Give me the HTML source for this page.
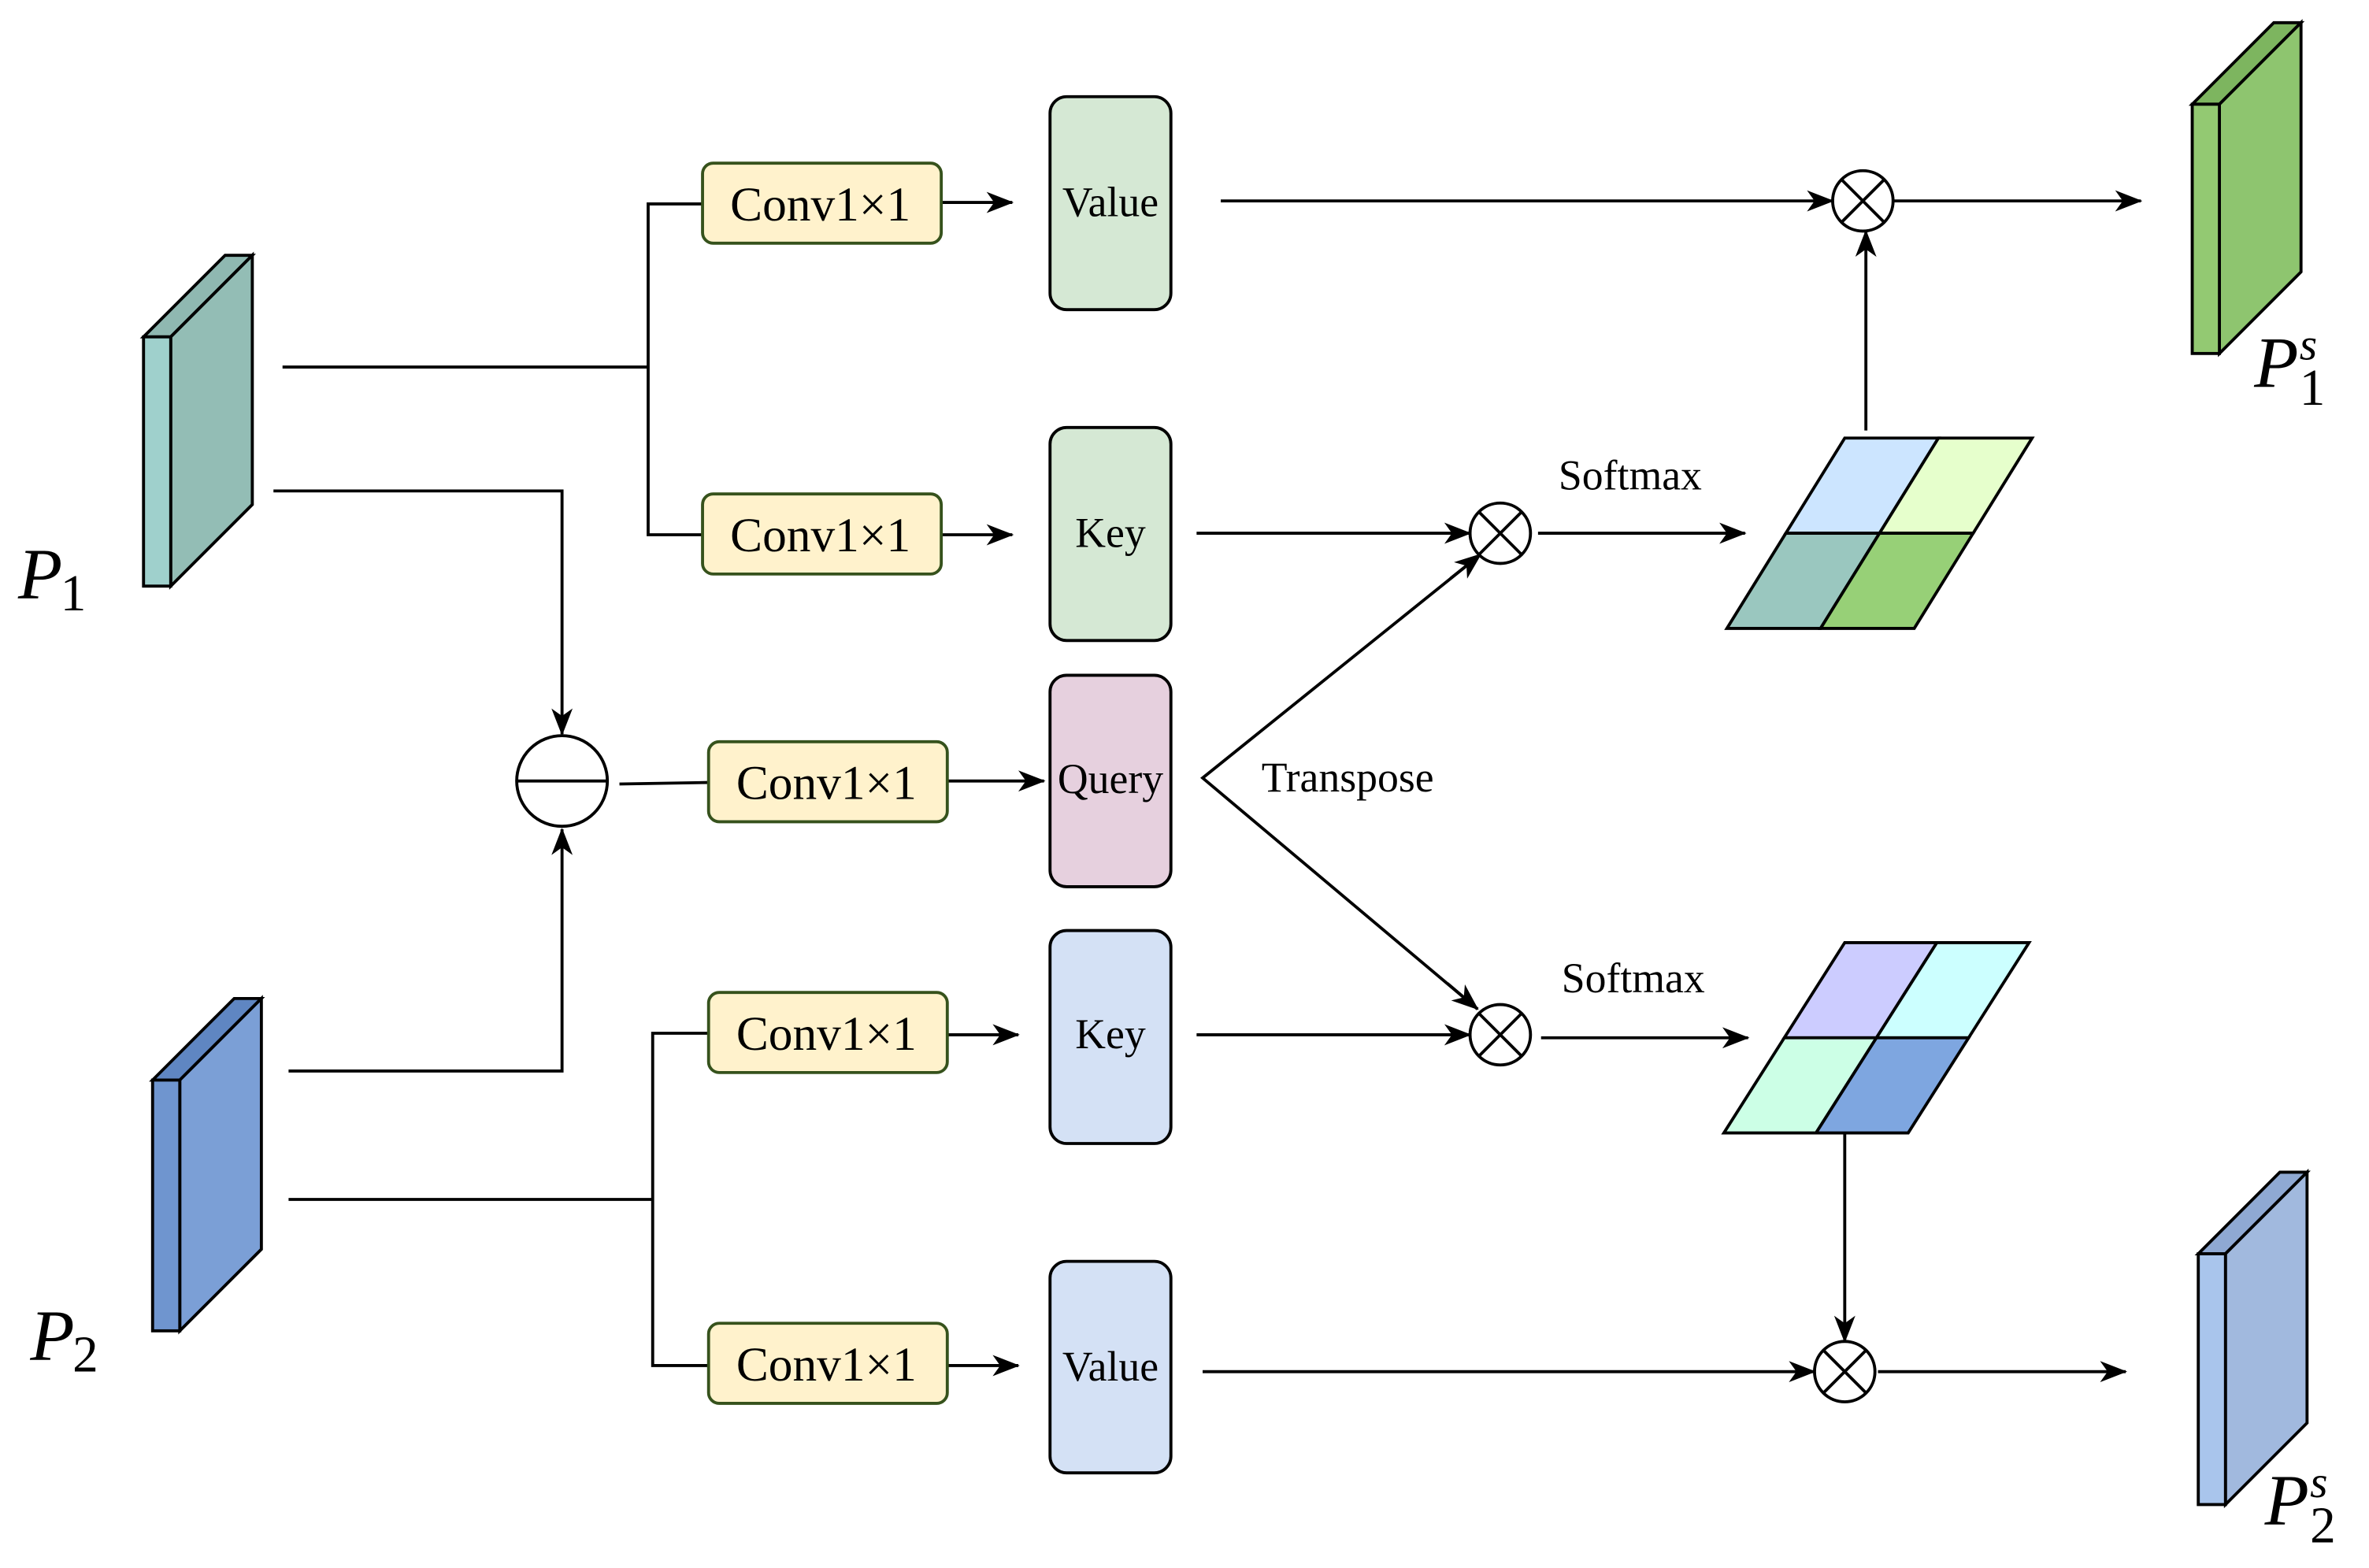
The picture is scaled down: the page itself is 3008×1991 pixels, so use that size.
<!DOCTYPE html>
<html><head><meta charset="utf-8"><style>html,body{margin:0;padding:0;background:#fff}svg{display:block}</style></head>
<body>
<svg width="3008" height="1991" viewBox="0 0 1568 1038" preserveAspectRatio="none" xmlns="http://www.w3.org/2000/svg" font-family="'Liberation Serif', serif">
<defs>
<marker id="b" markerWidth="18" markerHeight="14" refX="17" refY="7" orient="auto" markerUnits="userSpaceOnUse"><path d="M0,0 L18,7 L0,14 L5,7 Z" fill="#000"/></marker></defs>
<g stroke="#000" stroke-width="2">
<polygon points="95,223 113,223 167,169 149,169" fill="#8fb8b1"/>
<polygon points="113,223 167,169 167,334 113,388" fill="#93bdb5"/>
<rect x="95" y="223" width="18" height="165" fill="#9fd0cc"/>
<polygon points="101,715 119,715 173,661 155,661" fill="#5f86c2"/>
<polygon points="119,715 173,661 173,827 119,881" fill="#7b9fd6"/>
<rect x="101" y="715" width="18" height="166" fill="#6f95cf"/>
<polygon points="1451,69 1469,69 1523,15 1505,15" fill="#7db55f"/>
<polygon points="1469,69 1523,15 1523,180 1469,234" fill="#8ec56f"/>
<rect x="1451" y="69" width="18" height="165" fill="#93c972"/>
<polygon points="1455,830 1473,830 1527,776 1509,776" fill="#8fa9d3"/>
<polygon points="1473,830 1527,776 1527,942 1473,996" fill="#a1b9de"/>
<rect x="1455" y="830" width="18" height="166" fill="#a9c5ec"/>
</g>
<g stroke="#000" stroke-width="2" fill="none">
<polyline points="187,243 429,243"/>
<polyline points="465,135 429,135 429,354 465,354"/>
<polyline points="191,794 432,794"/>
<polyline points="469,684 432,684 432,904 469,904"/>
<polyline points="181,325 372,325 372,486" marker-end="url(#b)"/>
<polyline points="191,709 372,709 372,549" marker-end="url(#b)"/>
<line x1="410" y1="519" x2="469" y2="518"/>
<line x1="623" y1="134" x2="670" y2="134" marker-end="url(#b)"/>
<line x1="623" y1="354" x2="670" y2="354" marker-end="url(#b)"/>
<line x1="627" y1="517" x2="691" y2="517" marker-end="url(#b)"/>
<line x1="627" y1="685" x2="674" y2="685" marker-end="url(#b)"/>
<line x1="627" y1="904" x2="674" y2="904" marker-end="url(#b)"/>
<line x1="808" y1="133" x2="1213" y2="133" marker-end="url(#b)"/>
<line x1="1253" y1="133" x2="1417" y2="133" marker-end="url(#b)"/>
<line x1="792" y1="353" x2="973" y2="353" marker-end="url(#b)"/>
<line x1="1018" y1="353" x2="1155" y2="353" marker-end="url(#b)"/>
<line x1="1235" y1="285" x2="1235" y2="153" marker-end="url(#b)"/>
<line x1="792" y1="685" x2="973" y2="685" marker-end="url(#b)"/>
<line x1="1020" y1="687" x2="1157" y2="687" marker-end="url(#b)"/>
<line x1="1221" y1="750" x2="1221" y2="888" marker-end="url(#b)"/>
<line x1="796" y1="908" x2="1201" y2="908" marker-end="url(#b)"/>
<line x1="1243" y1="908" x2="1407" y2="908" marker-end="url(#b)"/>
<polyline points="980,367 796,515 978,668"/>
<line x1="960" y1="383" x2="980" y2="367" marker-end="url(#b)"/>
<line x1="958" y1="651" x2="978" y2="668" marker-end="url(#b)"/>
</g>
<g stroke="#000" stroke-width="2">
<polygon points="1221,290 1283,290 1244,353 1182,353" fill="#cce5ff"/>
<polygon points="1283,290 1345,290 1306,353 1244,353" fill="#e6ffcc"/>
<polygon points="1182,353 1244,353 1205,416 1143,416" fill="#9ac7bf"/>
<polygon points="1244,353 1306,353 1267,416 1205,416" fill="#97d077"/>
<polygon points="1221,624 1282,624 1242,687 1181,687" fill="#ccccff"/>
<polygon points="1282,624 1343,624 1303,687 1242,687" fill="#ccffff"/>
<polygon points="1181,687 1242,687 1202,750 1141,750" fill="#ccffe6"/>
<polygon points="1242,687 1303,687 1263,750 1202,750" fill="#7ea6e0"/>
</g>
<g stroke="#36521c" stroke-width="2" fill="#fff2cc">
<rect x="465" y="108" width="158" height="53" rx="7"/>
<rect x="465" y="327" width="158" height="53" rx="7"/>
<rect x="469" y="491" width="158" height="53" rx="7"/>
<rect x="469" y="657" width="158" height="53" rx="7"/>
<rect x="469" y="876" width="158" height="53" rx="7"/>
</g>
<g font-size="32" text-anchor="middle">
<text x="543" y="146">Conv1×1</text>
<text x="543" y="365">Conv1×1</text>
<text x="547" y="529">Conv1×1</text>
<text x="547" y="695">Conv1×1</text>
<text x="547" y="914">Conv1×1</text>
</g>
<g stroke="#000" stroke-width="2">
<rect x="695" y="64" width="80" height="141" rx="11" fill="#d5e8d4"/>
<rect x="695" y="283" width="80" height="141" rx="11" fill="#d5e8d4"/>
<rect x="695" y="447" width="80" height="140" rx="11" fill="#e6d0de"/>
<rect x="695" y="616" width="80" height="141" rx="11" fill="#d4e1f5"/>
<rect x="695" y="835" width="80" height="140" rx="11" fill="#d4e1f5"/>
</g>
<g font-size="28" text-anchor="middle">
<text x="735" y="143">Value</text>
<text x="735" y="362">Key</text>
<text x="735" y="525">Query</text>
<text x="735" y="694">Key</text>
<text x="735" y="914">Value</text>
<text x="1079" y="324">Softmax</text>
<text x="1081" y="657">Softmax</text>
<text x="892" y="524">Transpose</text>
</g>
<g stroke="#000" stroke-width="2" fill="#fff">
<circle cx="372" cy="517" r="30"/>
<line x1="342" y1="517" x2="402" y2="517"/>
<circle cx="1233" cy="133" r="20"/>
<circle cx="993" cy="353" r="20"/>
<circle cx="993" cy="685" r="20"/>
<circle cx="1221" cy="908" r="20"/>
<path d="M1219,119 L1247,147 M1247,119 L1219,147 M979,339 L1007,367 M1007,339 L979,367 M979,671 L1007,699 M1007,671 L979,699 M1207,894 L1235,922 M1235,894 L1207,922" stroke-width="2"/>
</g>
<g font-style="italic" font-size="48">
<text x="12" y="396">P</text><text x="40" y="404" font-style="normal" font-size="34">1</text>
<text x="20" y="900">P</text><text x="48" y="908" font-style="normal" font-size="34">2</text>
<text x="1492" y="256">P</text><text x="1522" y="238" font-size="30">s</text><text x="1522" y="268" font-style="normal" font-size="34">1</text>
<text x="1499" y="1009">P</text><text x="1529" y="991" font-size="30">s</text><text x="1529" y="1021" font-style="normal" font-size="34">2</text>
</g>
</svg>
</body></html>
